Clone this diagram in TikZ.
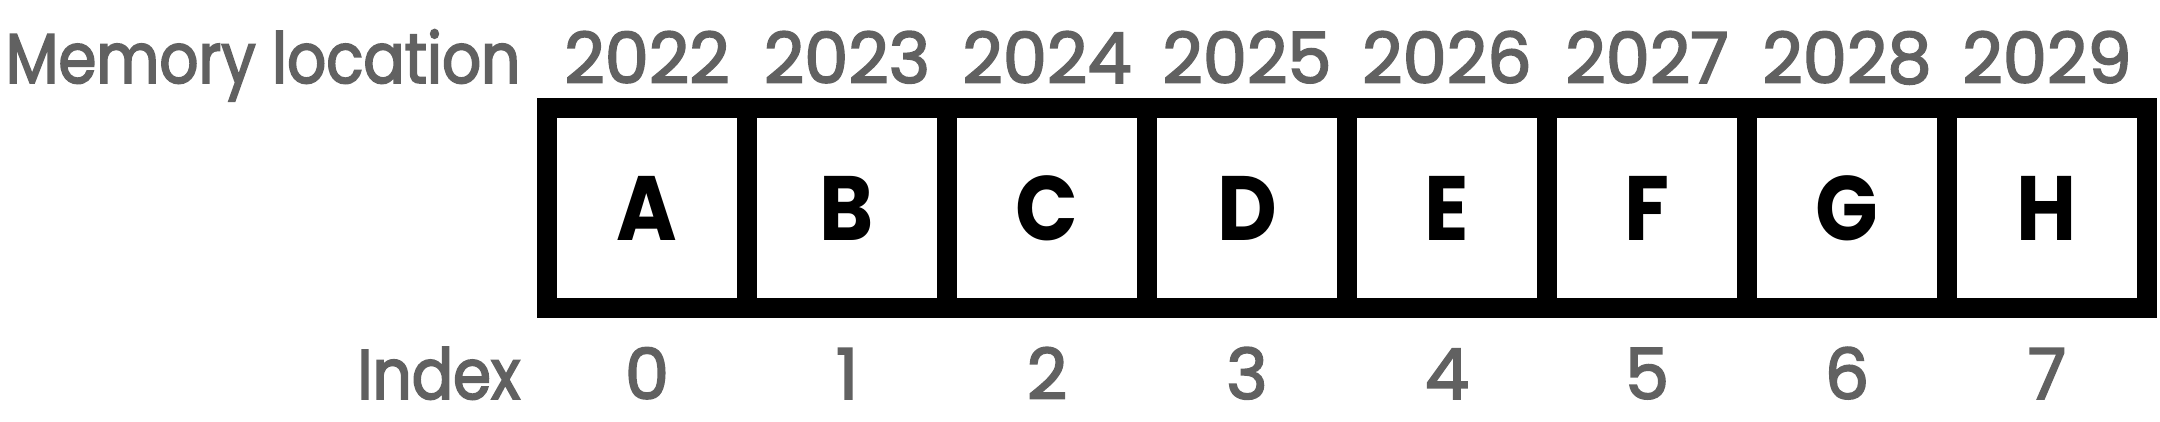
\documentclass[tikz,border=0pt]{standalone}
\usepackage{fontspec}
\setmainfont{Poppins}
\newfontfamily\numfont{Poppins}[FakeBold=2.5]
\newfontfamily\lblfont{Poppins}[FakeStretch=0.87, FakeBold=2.5]
\newfontfamily\cellfont{Poppins Bold}[FakeStretch=0.9]
\usetikzlibrary{positioning,calc}
\definecolor{cLabel}{HTML}{616161}
\tikzset{
  cell/.style ={draw=black, line width=2mm, minimum width=20mm, minimum height=20mm,
                inner sep=0pt, outer sep=0pt, font=\fontsize{26}{26}\cellfont, text=black},
  addr/.style ={font=\fontsize{20}{20}\numfont, text=cLabel, inner sep=0pt},
  idx/.style  ={addr},
  rowlbl/.style={font=\fontsize{20}{20}\lblfont, text=cLabel, inner sep=0pt},
}

\begin{document}
\begin{tikzpicture}[x=0.1mm, y=-0.1mm]
  \useasboundingbox (0,0) rectangle (2160,422);

  % ---- memory cells ----
  \foreach \l [count=\i from 0] in {A,B,C,D,E,F,G,H}
    \node[cell] (c\i) at (647+200*\i, 208) {\l};

  % ---- addresses above, indices below ----
  \foreach \a [count=\i from 0] in {2022,2023,2024,2025,2026,2027,2028,2029} {
    \node[addr, anchor=base] (m\i) at ($(c\i.north)+(0,-25)$) {\a};
    \node[idx, anchor=base] (n\i) at ($(c\i.south)+(0,91)$) {\i};
  }

  % ---- row labels ----
  \node[rowlbl, anchor=base east] (memlbl) at ($(c0.west |- m0.base)+(-26,0)$) {Memory location};
  \node[rowlbl, anchor=base east] (idxlbl) at ($(c0.west |- n0.base)+(-26,0)$) {Index};
\end{tikzpicture}
\end{document}
